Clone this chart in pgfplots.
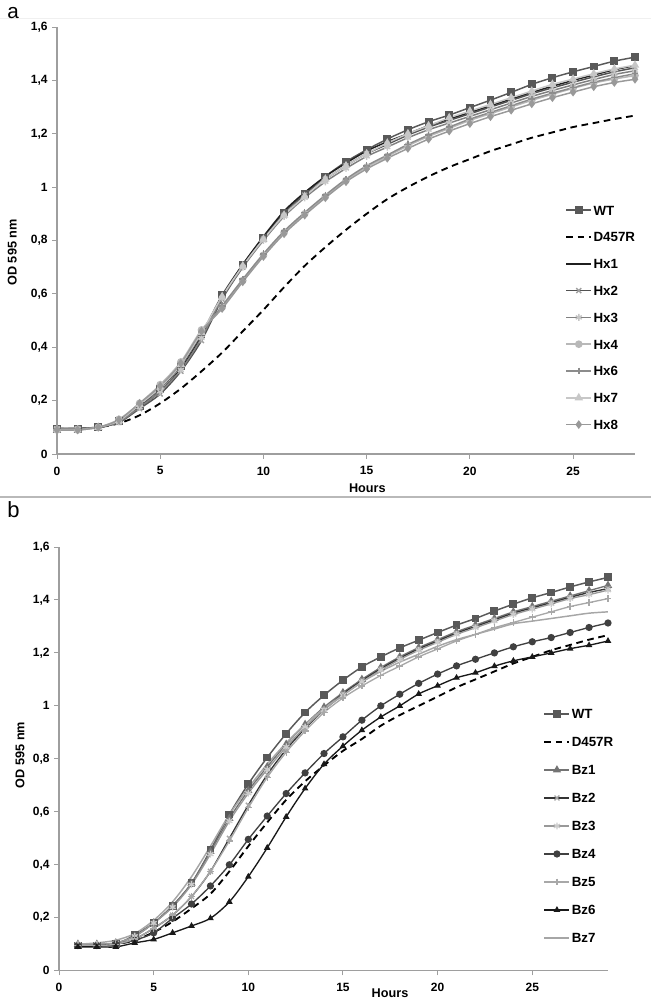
\documentclass[border=0pt]{standalone}
\usepackage{pgfplots}
\pgfplotsset{compat=1.18}
\usepackage{pgfplotstable}
\usepackage{fontspec}
\setmainfont{Liberation Sans}

\definecolor{cWT}{gray}{0.35}
\definecolor{cHxA}{gray}{0.12}
\definecolor{cHxB}{gray}{0.32}
\definecolor{cHxC}{gray}{0.50}
\definecolor{cHxD}{gray}{0.72}
\definecolor{cHxF}{gray}{0.55}
\definecolor{cHxG}{gray}{0.78}
\definecolor{cHxH}{gray}{0.60}
\definecolor{cBzA}{gray}{0.45}
\definecolor{cBzB}{gray}{0.20}
\definecolor{cBzC}{gray}{0.60}
\definecolor{cBzD}{gray}{0.25}
\definecolor{cBzE}{gray}{0.66}
\definecolor{cBzF}{gray}{0.10}
\definecolor{cBzG}{gray}{0.65}
\definecolor{axc}{gray}{0.62}

\pgfplotstableread{
h WT D457R Hx1 Hx2 Hx3 Hx4 Hx6 Hx7 Hx8
0 0.095 0.095 0.095 0.095 0.095 0.090 0.095 0.090 0.090
1 0.095 0.095 0.095 0.095 0.095 0.090 0.095 0.090 0.090
2 0.100 0.100 0.100 0.100 0.100 0.100 0.100 0.100 0.100
3 0.125 0.115 0.120 0.118 0.120 0.130 0.125 0.125 0.128
4 0.180 0.145 0.175 0.170 0.175 0.190 0.185 0.185 0.190
5 0.245 0.190 0.235 0.225 0.235 0.260 0.250 0.250 0.255
6 0.330 0.245 0.320 0.310 0.315 0.345 0.335 0.335 0.340
7 0.450 0.310 0.440 0.425 0.435 0.465 0.455 0.455 0.460
8 0.595 0.380 0.590 0.580 0.585 0.550 0.555 0.590 0.545
9 0.710 0.460 0.710 0.700 0.700 0.650 0.655 0.705 0.645
10 0.810 0.540 0.815 0.805 0.800 0.745 0.750 0.805 0.740
11 0.905 0.625 0.910 0.895 0.890 0.830 0.835 0.895 0.825
12 0.975 0.705 0.980 0.970 0.960 0.900 0.905 0.965 0.895
13 1.040 0.775 1.040 1.030 1.020 0.965 0.970 1.030 0.960
14 1.095 0.840 1.090 1.080 1.070 1.025 1.030 1.080 1.020
15 1.140 0.900 1.135 1.125 1.115 1.075 1.080 1.125 1.068
16 1.180 0.955 1.170 1.160 1.150 1.115 1.120 1.165 1.108
17 1.215 1.000 1.200 1.195 1.185 1.155 1.160 1.200 1.145
18 1.245 1.040 1.230 1.225 1.215 1.190 1.195 1.230 1.180
19 1.270 1.075 1.255 1.250 1.240 1.220 1.225 1.260 1.210
20 1.298 1.105 1.280 1.275 1.265 1.250 1.255 1.285 1.238
21 1.326 1.135 1.305 1.300 1.290 1.275 1.280 1.310 1.264
22 1.355 1.160 1.330 1.325 1.315 1.300 1.305 1.335 1.288
23 1.385 1.185 1.355 1.350 1.340 1.325 1.330 1.360 1.312
24 1.410 1.205 1.378 1.372 1.362 1.348 1.352 1.385 1.335
25 1.432 1.225 1.400 1.393 1.383 1.370 1.373 1.405 1.356
26 1.452 1.240 1.420 1.413 1.403 1.390 1.393 1.425 1.376
27 1.472 1.255 1.440 1.432 1.422 1.405 1.410 1.443 1.392
28 1.487 1.268 1.455 1.447 1.436 1.418 1.425 1.457 1.404
}\dataA

\pgfplotstableread{
h WT D457R Bz1 Bz2 Bz3 Bz4 Bz5 Bz6 Bz7
1 0.095 0.095 0.100 0.095 0.100 0.095 0.095 0.090 0.100
2 0.095 0.095 0.100 0.095 0.100 0.095 0.095 0.090 0.105
3 0.100 0.100 0.105 0.100 0.105 0.100 0.100 0.090 0.115
4 0.135 0.115 0.130 0.120 0.130 0.115 0.120 0.105 0.140
5 0.180 0.145 0.180 0.160 0.180 0.143 0.160 0.118 0.190
6 0.245 0.185 0.245 0.210 0.240 0.198 0.210 0.143 0.260
7 0.330 0.235 0.330 0.280 0.325 0.252 0.280 0.169 0.355
8 0.455 0.290 0.450 0.375 0.440 0.320 0.375 0.198 0.470
9 0.590 0.375 0.575 0.500 0.565 0.400 0.490 0.260 0.590
10 0.705 0.470 0.680 0.625 0.670 0.496 0.615 0.355 0.690
11 0.805 0.560 0.770 0.740 0.760 0.584 0.730 0.464 0.780
12 0.895 0.645 0.855 0.835 0.845 0.669 0.825 0.581 0.860
13 0.975 0.715 0.930 0.915 0.920 0.747 0.905 0.688 0.930
14 1.040 0.775 0.995 0.985 0.985 0.820 0.975 0.780 0.990
15 1.097 0.830 1.050 1.045 1.040 0.883 1.030 0.848 1.040
16 1.147 0.875 1.100 1.095 1.090 0.946 1.075 0.908 1.090
17 1.185 0.925 1.145 1.140 1.135 1.000 1.115 0.958 1.130
18 1.219 0.965 1.185 1.180 1.175 1.044 1.150 1.000 1.165
19 1.248 1.000 1.220 1.215 1.210 1.085 1.185 1.045 1.195
20 1.277 1.035 1.250 1.245 1.240 1.120 1.215 1.076 1.225
21 1.305 1.070 1.280 1.275 1.270 1.151 1.245 1.106 1.250
22 1.330 1.100 1.305 1.300 1.295 1.176 1.270 1.125 1.270
23 1.358 1.130 1.330 1.325 1.320 1.200 1.295 1.150 1.290
24 1.384 1.160 1.355 1.350 1.345 1.223 1.315 1.170 1.310
25 1.408 1.185 1.375 1.370 1.365 1.242 1.335 1.185 1.320
26 1.428 1.210 1.395 1.390 1.385 1.258 1.355 1.200 1.330
27 1.449 1.230 1.415 1.410 1.405 1.277 1.375 1.216 1.340
28 1.468 1.250 1.435 1.428 1.420 1.296 1.390 1.229 1.350
29 1.485 1.267 1.455 1.443 1.437 1.313 1.405 1.245 1.355
}\dataB

\pgfplotsset{
  myax/.style={
    scale only axis,
    axis lines*=left,
    axis line style={draw=axc, line width=0.9pt},
    tick align=outside,
    major tick length=3.5pt,
    tick style={draw=axc, line width=0.7pt},
    ymin=0, ymax=1.6,
    ytick={0,0.2,0.4,0.6,0.8,1,1.2,1.4,1.6},
    yticklabels={0,{0,2},{0,4},{0,6},{0,8},1,{1,2},{1,4},{1,6}},
    xtick={0,5,10,15,20,25},
    xticklabels={0,5,10,15,20,25},
    ticklabel style={font=\bfseries\fontsize{9}{10}\selectfont},
    xticklabel style={yshift=-2.5pt},
    label style={font=\bfseries\fontsize{9.5}{11}\selectfont},
    legend cell align=left,
    legend image code/.code={\draw[mark repeat=2,mark phase=2,##1] plot coordinates {(0pt,0pt) (9.4pt,0pt) (18.8pt,0pt)};},
    legend style={draw=none, fill=none, inner sep=0pt, anchor=north west,
      font=\bfseries\fontsize{10}{12}\selectfont,
      nodes={inner ysep=0pt, inner xsep=1pt, text height=7.3pt, text depth=0pt},
      row sep=12.8pt},
    every axis plot/.append style={smooth, tension=0.5},
  },
}

\begin{document}
\begin{tikzpicture}
\useasboundingbox (0pt,0pt) rectangle (488.25pt,750.75pt);
\draw[gray!12, line width=0.5pt] (0pt,737.25pt) -- (488.25pt,737.25pt);
\draw[gray!55, line width=0.8pt] (0pt,378pt) -- (488.25pt,378pt);
\node[anchor=base west, inner sep=0pt, font=\fontsize{15.5}{18}\selectfont] at (5.25pt,736.5pt) {a};
\node[anchor=base west, inner sep=0pt, font=\fontsize{16.5}{20}\selectfont] at (5.25pt,362.25pt) {b};

% ---------------- panel a ----------------
\begin{axis}[myax, at={(42.75pt,410.25pt)}, anchor=south west,
  width=433.5pt, height=320.25pt,
  xmin=0, xmax=28,
  xlabel={Hours}, ylabel={OD 595 nm},
  xlabel style={at={(axis description cs:0.537,0)}, anchor=center, yshift=-25.5pt},
  ylabel style={at={(axis description cs:0,0.472)}, anchor=center, yshift=33.5pt},
  legend style={at={(axis description cs:0.879,0.583)}},
]
\addplot[color=cWT, line width=1.1pt, mark=square*, mark size=2.4pt, mark options={solid}] table[x=h,y=WT]{\dataA};
\addlegendentry{WT}
\addplot[color=black, line width=1.4pt, dash pattern=on 5pt off 3.5pt, no marks] table[x=h,y=D457R]{\dataA};
\addlegendentry{D457R}
\addplot[color=cHxA, line width=1.1pt, no marks] table[x=h,y=Hx1]{\dataA};
\addlegendentry{Hx1}
\addplot[color=cHxB, line width=1.1pt, mark=x, mark size=2.6pt, mark options={solid, color=gray!75}] table[x=h,y=Hx2]{\dataA};
\addlegendentry{Hx2}
\addplot[color=cHxC, line width=1.1pt, mark=asterisk, mark size=2.6pt, mark options={solid, color=gray!45}] table[x=h,y=Hx3]{\dataA};
\addlegendentry{Hx3}
\addplot[color=cHxD, line width=1.1pt, mark=*, mark size=2.3pt, mark options={solid}] table[x=h,y=Hx4]{\dataA};
\addlegendentry{Hx4}
\addplot[color=cHxF, line width=1.1pt, mark=+, mark size=2.6pt, mark options={solid}] table[x=h,y=Hx6]{\dataA};
\addlegendentry{Hx6}
\addplot[color=cHxG, line width=1.1pt, mark=triangle*, mark size=2.6pt, mark options={solid}] table[x=h,y=Hx7]{\dataA};
\addlegendentry{Hx7}
\addplot[color=cHxH, line width=1.1pt, mark=diamond*, mark size=2.4pt, mark options={solid}] table[x=h,y=Hx8]{\dataA};
\addlegendentry{Hx8}
\end{axis}

% ---------------- panel b ----------------
\begin{axis}[myax, at={(44.25pt,22.725pt)}, anchor=south west,
  width=411.75pt, height=317.8pt,
  xmin=0, xmax=29,
  xlabel={Hours}, ylabel={OD 595 nm},
  xlabel style={at={(axis description cs:0.603,0)}, anchor=center, yshift=-16.7pt},
  ylabel style={at={(axis description cs:0,0.509)}, anchor=center, yshift=29.25pt},
  legend style={at={(axis description cs:0.882,0.618)}, row sep=13.7pt},
]
\addplot[color=cWT, line width=1.1pt, mark=square*, mark size=2.4pt, mark options={solid}] table[x=h,y=WT]{\dataB};
\addlegendentry{WT}
\addplot[color=black, line width=1.4pt, dash pattern=on 5pt off 3.5pt, no marks] table[x=h,y=D457R]{\dataB};
\addlegendentry{D457R}
\addplot[color=cBzA, line width=1.0pt, mark=triangle*, mark size=2.6pt, mark options={solid}] table[x=h,y=Bz1]{\dataB};
\addlegendentry{Bz1}
\addplot[color=cBzB, line width=1.0pt, mark=x, mark size=2.6pt, mark options={solid, color=gray!70}] table[x=h,y=Bz2]{\dataB};
\addlegendentry{Bz2}
\addplot[color=cBzC, line width=1.0pt, mark=asterisk, mark size=2.6pt, mark options={solid, color=gray!40}] table[x=h,y=Bz3]{\dataB};
\addlegendentry{Bz3}
\addplot[color=cBzD, line width=1.0pt, mark=*, mark size=2.2pt, mark options={solid}] table[x=h,y=Bz4]{\dataB};
\addlegendentry{Bz4}
\addplot[color=cBzE, line width=1.0pt, mark=+, mark size=2.6pt, mark options={solid}] table[x=h,y=Bz5]{\dataB};
\addlegendentry{Bz5}
\addplot[color=cBzF, line width=1.0pt, mark=triangle*, mark size=1.9pt, mark options={solid}] table[x=h,y=Bz6]{\dataB};
\addlegendentry{Bz6}
\addplot[color=cBzG, line width=1.1pt, no marks] table[x=h,y=Bz7]{\dataB};
\addlegendentry{Bz7}
\end{axis}
\end{tikzpicture}
\end{document}
